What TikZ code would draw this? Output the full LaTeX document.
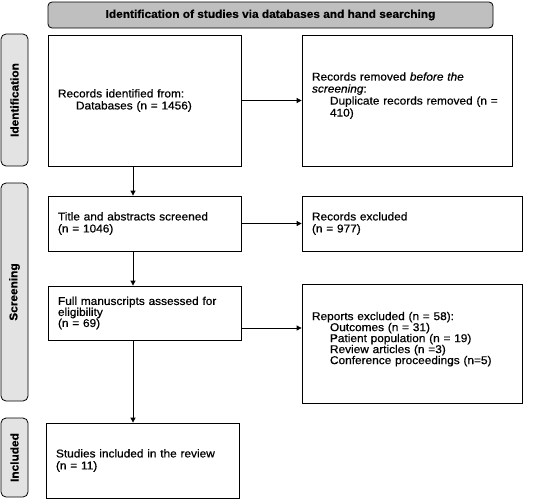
\documentclass[tikz,border=0pt]{standalone}
\usepackage{fontspec}
\setmainfont{Liberation Sans}[FakeStretch=1.05,FakeBold=0.6]
\usetikzlibrary{arrows.meta}
\definecolor{headgray}{HTML}{BFBFBF}
\definecolor{phasegray}{HTML}{E3E3E3}
\tikzset{
  box/.style={draw, line width=0.8pt, rectangle, inner xsep=10pt, inner ysep=0pt,
    align=left, font=\fontsize{11.3}{12}\selectfont},
  tightbox/.style={box, font=\fontsize{11.3}{11}\selectfont},
  phase/.style={draw, line width=0.8pt, rounded corners=5pt, fill=phasegray,
    rotate=90, inner sep=0pt, font=\bfseries\fontsize{11.3}{12}\selectfont},
  header/.style={draw, line width=0.8pt, rounded corners=4pt, fill=headgray,
    inner sep=0pt, font=\bfseries\fontsize{11.3}{12}\selectfont},
  arr/.style={line width=0.8pt, -{Triangle[length=5pt,width=5pt]}}
}
\begin{document}
\begin{tikzpicture}[x=1pt,y=-1pt]
\path[use as bounding box] (0,0) rectangle (535,499);

\node[header, minimum width=445pt, minimum height=26pt] (head) at (270.5,15)
  {Identification of studies via databases and hand searching};

\node[phase, minimum width=132pt, minimum height=27pt] (p1) at (14.5,100) {Identification};
\node[phase, minimum width=218pt, minimum height=27pt] (p2) at (14.5,292) {Screening};
\node[phase, minimum width=79pt, minimum height=27pt] (p3) at (14.5,457.5) {Included};

\node[box, minimum width=193pt, minimum height=131pt, text width=173pt] (b1) at (144.5,100.5)
  {Records identified from:\\\hspace*{18pt}Databases (n = 1456)};
\node[box, minimum width=210pt, minimum height=131pt, text width=190pt] (b2) at (407,100.5)
  {Records removed \textit{before the}\\\textit{screening}:\\\hspace*{18pt}Duplicate records removed (n =\\\hspace*{18pt}410)\\\mbox{}};

\node[box, minimum width=193pt, minimum height=55pt, text width=173pt] (b3) at (144.5,223.5)
  {Title and abstracts screened\\(n = 1046)};
\node[box, minimum width=220pt, minimum height=55pt, text width=200pt] (b4) at (412,223.5)
  {Records excluded\\(n = 977)};

\node[tightbox, minimum width=193pt, minimum height=54pt, text width=173pt] (b5) at (144.5,313)
  {Full manuscripts assessed for\\eligibility\\(n = 69)};
\node[tightbox, minimum width=220pt, minimum height=119pt, text width=200pt] (b6) at (412,343.5)
  {Reports excluded (n = 58):\\\hspace*{18pt}Outcomes (n = 31)\\\hspace*{18pt}Patient population (n = 19)\\\hspace*{18pt}Review articles (n =3)\\\hspace*{18pt}Conference proceedings (n=5)\\\mbox{}};

\node[box, minimum width=193pt, minimum height=75pt, text width=173pt] (b7) at (142.5,460.5)
  {Studies included in the review\\(n = 11)};

\coordinate (vx) at (133,0);
\coordinate (hy) at (0,328);

\draw[arr] (b1) -- (b2);
\draw[arr] (b3) -- (b4);
\draw[arr] (b5.east |- hy) -- (b6.west |- hy);
\draw[arr] (b1.south -| vx) -- (b3.north -| vx);
\draw[arr] (b3.south -| vx) -- (b5.north -| vx);
\draw[arr] (b5.south -| vx) -- (b7.north -| vx);
\end{tikzpicture}
\end{document}
